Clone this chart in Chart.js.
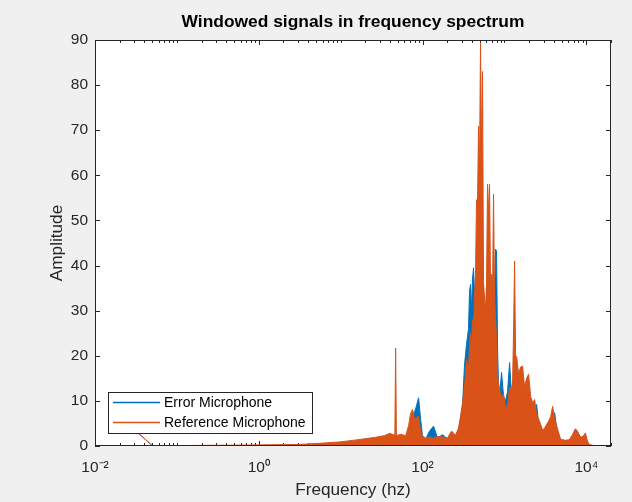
<!DOCTYPE html>
<html>
<head>
<meta charset="utf-8">
<script src="https://cdn.jsdelivr.net/npm/chart.js@4.4.1/dist/chart.umd.min.js"></script>
<style>
  html, body { margin: 0; padding: 0; background: #f0f0f0; }
  #wrap { width: 632px; height: 502px; }
</style>
</head>
<body>
<div id="wrap"><canvas id="spectrumChart" width="632" height="502"></canvas></div>
<script>
// spectrum values (Hz / amplitude)
const freqHz = [
  0.028, 0.05, 0.11, 0.25, 0.6, 1.36, 3.16, 5.55, 9.7, 14.8,
  19.6, 26, 34.4, 39.6, 44.3, 45.9, 46.9, 47.9, 49.6, 55.5,
  62.1, 67.5, 71.4, 75.5, 79.9, 84.5, 89.4, 94.6, 100, 108.9,
  121.7, 136.2, 152.4, 175.4, 201.9, 226, 252.8, 274.9, 290.7, 307.5,
  325.3, 344.1, 364, 374.4, 385, 396, 407.3, 418.9, 430.9, 443.2,
  455.9, 468.9, 482.3, 496, 510.2, 524.8, 539.8, 555.2, 571, 587.3,
  604.1, 621.4, 639.1, 657.4, 676.2, 695.5, 715.4, 735.8, 756.8, 778.5,
  800.7, 823.6, 847.1, 871.3, 921.8, 975.2, 1031.7, 1091.5, 1154.8, 1221.7,
  1256.6, 1292.5, 1329.4, 1367.4, 1406.4, 1488, 1574, 1665, 1762, 1864,
  1972, 2086, 2207, 2335, 2470, 2613, 2765, 2925, 3094, 3274,
  3463, 3664, 3876, 4101, 4339, 4590, 4856, 5276, 5703, 6209,
  6745, 7345, 7762, 8222, 8690, 9190, 9727, 10286, 10886, 12531,
  14420, 16600, 20000
];
const errorMic = [
  4.2, 0.05, 0.05, 0.08, 0.1, 0.15, 0.2, 0.35, 0.5, 0.8,
  1.0, 1.2, 1.5, 1.7, 1.6, 1.6, 1.5, 1.6, 1.6, 1.8,
  1.7, 3.5, 5.0, 6.5, 7.5, 9.0, 10.7, 6.0, 2.0, 1.5,
  3.3, 4.4, 1.8, 2.5, 1.6, 3.0, 2.0, 3.5, 6.0, 9.0,
  18, 22.5, 26, 34.3, 35.8, 30, 37, 39.5, 34, 36,
  40, 45, 44, 50, 48, 50, 45, 34, 30, 28,
  33, 38, 35, 40, 33, 38, 30, 37.3, 32, 43.6,
  43.2, 22, 13, 11, 16.3, 11, 10, 12, 18.5, 11,
  12, 16, 18, 15, 14, 13, 12, 13, 11, 12,
  11, 9, 8, 7, 9.2, 5, 4, 3.2, 2.9, 3.5,
  4, 5, 6.5, 7.4, 4, 2.5, 1.2, 1.4, 1.0, 1.2,
  2.0, 3.8, 3.3, 2.4, 1.8, 2.0, 2.5, 0.9, 0.2, 0.05,
  0.05, 0.05, 0.05
];
const referenceMic = [
  4.2, 0.1, 0.1, 0.15, 0.2, 0.25, 0.35, 0.6, 0.9, 1.3,
  1.6, 1.9, 2.3, 2.8, 2.5, 2.4, 21.7, 2.5, 2.4, 2.6,
  2.2, 4.5, 7.2, 8.1, 6.0, 6.3, 6.6, 3.2, 2.2, 1.8,
  2.0, 1.7, 2.1, 2.0, 1.8, 3.3, 2.4, 4.0, 6.5, 9.6,
  13, 19, 17, 22, 25, 21, 28, 26, 33, 38,
  54.6, 54, 70.9, 62, 89.4, 66, 83, 36, 33, 30,
  36, 58, 52, 58, 35, 38, 34, 55.8, 33, 28,
  24, 15.5, 14, 12.5, 10.7, 11.5, 8.5, 9, 13, 12.5,
  14, 25.8, 41, 20, 19.9, 16, 17.5, 17.7, 13, 15,
  15.9, 11, 9.6, 10.3, 7, 6, 4.8, 3.5, 4.0, 4.8,
  5.5, 6.5, 8.8, 6.0, 4.5, 2.9, 1.5, 1.2, 1.3, 1.4,
  2.5, 3.7, 3.3, 2.2, 2.0, 2.2, 2.9, 1.1, 0.3, 0.1,
  0.1, 0.1, 0.1
];
const seriesNames = ["Error Microphone", "Reference Microphone"];
const seriesColors = ["#0072BD", "#D95319"];
const xTickValues = [0.01, 1, 100, 10000];
const xTickLabels = ["10⁻²", "10⁰", "10²", "10⁴"];
const yTickValues = [0, 10, 20, 30, 40, 50, 60, 70, 80, 90];

const FONT = '"Liberation Sans", Arial, Helvetica, sans-serif';
const AXIS_COLOR = "#262626";
Chart.defaults.font.family = FONT;

function toPoints(values) {
  return values.map((v, i) => ({ x: freqHz[i], y: v }));
}

// the leakage segment at the very start is a plain line, not an area
const noFillFirst = {
  backgroundColor: (ctx) => (ctx.p0DataIndex === 0 ? "rgba(0,0,0,0)" : undefined),
};

// matlab-like background, inward ticks, box and legend
const matlabAxes = {
  id: "matlabAxes",
  beforeDraw(chart) {
    const { ctx, chartArea: a } = chart;
    ctx.save();
    ctx.fillStyle = "#f0f0f0";
    ctx.fillRect(0, 0, chart.width, chart.height);
    ctx.fillStyle = "#ffffff";
    ctx.fillRect(a.left, a.top, a.right - a.left, a.bottom - a.top);
    ctx.restore();
  },
  beforeDatasetsDraw(chart) {
    const { ctx, chartArea: a, scales } = chart;
    ctx.save();
    ctx.strokeStyle = AXIS_COLOR;
    ctx.lineWidth = 1;
    ctx.beginPath();
    yTickValues.forEach((v) => {
      const y = Math.round(scales.y.getPixelForValue(v)) + 0.5;
      ctx.moveTo(a.left, y);
      ctx.lineTo(a.left + 5, y);
      ctx.moveTo(a.right, y);
      ctx.lineTo(a.right - 5, y);
    });
    for (let n = -2; n <= 4; n++) {
      for (let k = 1; k <= 9; k++) {
        const f = k * Math.pow(10, n);
        if (f < scales.x.min || f > scales.x.max) continue;
        const x = Math.round(scales.x.getPixelForValue(f)) + 0.5;
        const len = k === 1 && n % 2 === 0 ? 5 : 3;
        ctx.moveTo(x, a.bottom);
        ctx.lineTo(x, a.bottom - len);
        ctx.moveTo(x, a.top);
        ctx.lineTo(x, a.top + len);
      }
    }
    ctx.stroke();
    ctx.restore();
  },
  afterDraw(chart) {
    const { ctx, chartArea: a } = chart;
    ctx.save();
    ctx.strokeStyle = AXIS_COLOR;
    ctx.lineWidth = 1;
    ctx.strokeRect(Math.round(a.left) + 0.5, Math.round(a.top) + 0.5,
      Math.round(a.right - a.left) - 1, Math.round(a.bottom - a.top) - 1);

    // legend box
    ctx.fillStyle = "#ffffff";
    ctx.fillRect(108.5, 392.5, 204, 41);
    ctx.strokeRect(108.5, 392.5, 204, 41);
    ctx.font = "14px " + FONT;
    ctx.textBaseline = "middle";
    const rows = [402.5, 422.5];
    seriesNames.forEach((name, i) => {
      ctx.strokeStyle = seriesColors[i];
      ctx.lineWidth = 1.5;
      ctx.beginPath();
      ctx.moveTo(113, rows[i]);
      ctx.lineTo(160, rows[i]);
      ctx.stroke();
      ctx.fillStyle = "#000000";
      ctx.fillText(name, 164, rows[i] + 1);
    });
    ctx.restore();
  },
};

new Chart(document.getElementById("spectrumChart"), {
  type: "line",
  data: {
    datasets: [
      {
        label: seriesNames[0],
        data: toPoints(errorMic),
        borderColor: seriesColors[0],
        backgroundColor: seriesColors[0],
        borderWidth: 1,
        fill: "origin",
        segment: noFillFirst,
        order: 2,
      },
      {
        label: seriesNames[1],
        data: toPoints(referenceMic),
        borderColor: seriesColors[1],
        backgroundColor: seriesColors[1],
        borderWidth: 1,
        fill: "origin",
        segment: noFillFirst,
        order: 1,
      },
    ],
  },
  options: {
    responsive: false,
    animation: false,
    parsing: false,
    layout: { padding: { left: 0, right: 21, top: 0, bottom: 0 } },
    elements: { point: { radius: 0 }, line: { tension: 0 } },
    plugins: {
      legend: { display: false },
      tooltip: { enabled: false },
      title: {
        display: true,
        text: "Windowed signals in frequency spectrum",
        color: "#000000",
        fullSize: false,
        font: { size: 17.4, weight: "bold" },
        padding: { top: 11.5, bottom: 7.6 },
      },
    },
    scales: {
      x: {
        type: "logarithmic",
        min: 0.01,
        max: 20000,
        grid: { display: false, drawTicks: false },
        border: { display: false },
        afterBuildTicks: (scale) => {
          scale.ticks = xTickValues.map((v) => ({ value: v }));
        },
        afterFit: (scale) => {
          scale.height = 56;
        },
        ticks: {
          autoSkip: false,
          maxRotation: 0,
          padding: 12,
          color: AXIS_COLOR,
          font: { size: 15.5 },
          callback: (value) => {
            const i = xTickValues.indexOf(value);
            return i >= 0 ? xTickLabels[i] : "";
          },
        },
        title: {
          display: true,
          text: "Frequency (hz)",
          color: AXIS_COLOR,
          font: { size: 17.2 },
          padding: { top: 0, bottom: 1.7 },
        },
      },
      y: {
        min: 0,
        max: 90,
        grid: { display: false, drawTicks: false },
        border: { display: false },
        afterBuildTicks: (scale) => {
          scale.ticks = yTickValues.map((v) => ({ value: v }));
        },
        afterFit: (scale) => {
          scale.width = 95;
        },
        ticks: {
          padding: 7,
          color: AXIS_COLOR,
          font: { size: 15.5 },
        },
        title: {
          display: true,
          text: "Amplitude",
          color: AXIS_COLOR,
          font: { size: 17.2 },
          padding: { top: 46.7, bottom: 0 },
        },
      },
    },
  },
  plugins: [matlabAxes],
});
</script>
</body>
</html>
